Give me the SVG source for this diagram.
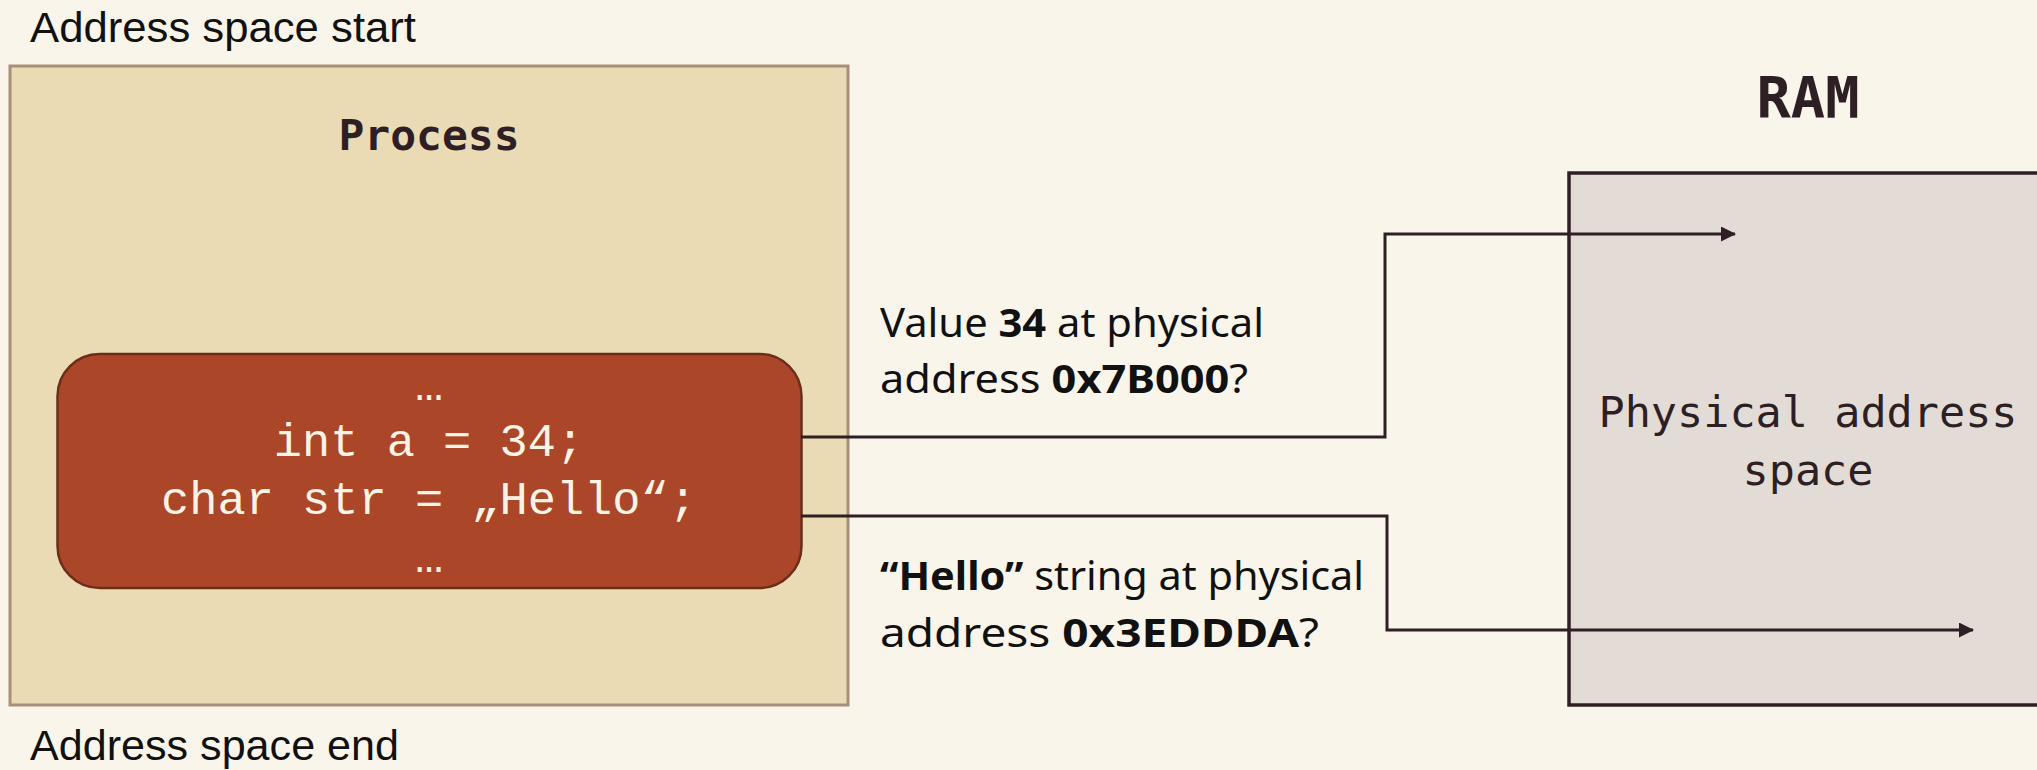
<svg xmlns="http://www.w3.org/2000/svg" width="2037" height="770" viewBox="0 0 2037 770">
  <style>
    .caption { font-family: "Liberation Sans", Arial, sans-serif; font-size: 43px; fill: #111111; }
    .title { font-family: "DejaVu Sans Mono", monospace; font-weight: bold; fill: #2E1F24; text-anchor: middle; }
    .code { font-family: "Liberation Mono", "Courier New", monospace; font-size: 47px; fill: #FBF3E6; text-anchor: middle; }
    .mono { font-family: "DejaVu Sans Mono", monospace; font-size: 43.5px; fill: #2E1F24; text-anchor: middle; }
    .label { font-family: "Noto Sans", "Open Sans", sans-serif; font-size: 40px; fill: #111111; }
    .label .b { font-weight: bold; }
    .wire { fill: none; stroke: #2E1F24; stroke-width: 3; }
  </style>
  <defs>
    <marker id="arrow" markerUnits="userSpaceOnUse" markerWidth="16" markerHeight="16" refX="14" refY="7.5" orient="auto">
      <path d="M0,0 L15,7.5 L0,15 Z" fill="#2E1F24"/>
    </marker>
  </defs>

  <!-- page background -->
  <rect x="0" y="0" width="2037" height="770" fill="#FAF5EB"/>

  <text class="caption" x="30" y="42" textLength="386" lengthAdjust="spacingAndGlyphs">Address space start</text>
  <text class="caption" x="30" y="760" textLength="369" lengthAdjust="spacingAndGlyphs">Address space end</text>

  <!-- process address space -->
  <g id="process">
    <rect x="10" y="66" width="838" height="639" fill="#EBDBB4" stroke="#A89078" stroke-width="3"/>
    <text class="title" x="429" y="150" font-size="43">Process</text>
  </g>

  <!-- source snippet inside the process -->
  <g id="code">
    <rect x="57.5" y="354" width="744" height="234" rx="42" ry="42" fill="#AB4728" stroke="#6B2E1A" stroke-width="2.5"/>
    <text class="code" x="429" y="400">…</text>
    <text class="code" x="429" y="456">int a = 34;</text>
    <text class="code" x="429" y="514">char str = „Hello“;</text>
    <text class="code" x="429" y="572">…</text>
  </g>

  <!-- physical memory -->
  <g id="ram">
    <text class="title" x="1808" y="118" font-size="57">RAM</text>
    <rect x="1569" y="173" width="600" height="532" fill="#E3DBD5" stroke="#2E1F24" stroke-width="3.5"/>
    <text class="mono" x="1808" y="427">Physical address</text>
    <text class="mono" x="1808" y="485">space</text>
  </g>

  <!-- lookups from the snippet into physical memory -->
  <g id="connectors">
    <path class="wire" d="M801,437 H1385 V234 H1735" marker-end="url(#arrow)"/>
    <path class="wire" d="M801,516 H1387 V630 H1973" marker-end="url(#arrow)"/>
  </g>

  <g id="labels">
    <text class="label" x="880" y="337" textLength="384" lengthAdjust="spacingAndGlyphs">Value <tspan class="b">34</tspan> at physical</text>
    <text class="label" x="880" y="393" textLength="368" lengthAdjust="spacingAndGlyphs">address <tspan class="b">0x7B000</tspan>?</text>
    <text class="label" x="880" y="590" textLength="484" lengthAdjust="spacingAndGlyphs"><tspan class="b">“Hello”</tspan> string at physical</text>
    <text class="label" x="880" y="647" textLength="439" lengthAdjust="spacingAndGlyphs">address <tspan class="b">0x3EDDDA</tspan>?</text>
  </g>
</svg>
